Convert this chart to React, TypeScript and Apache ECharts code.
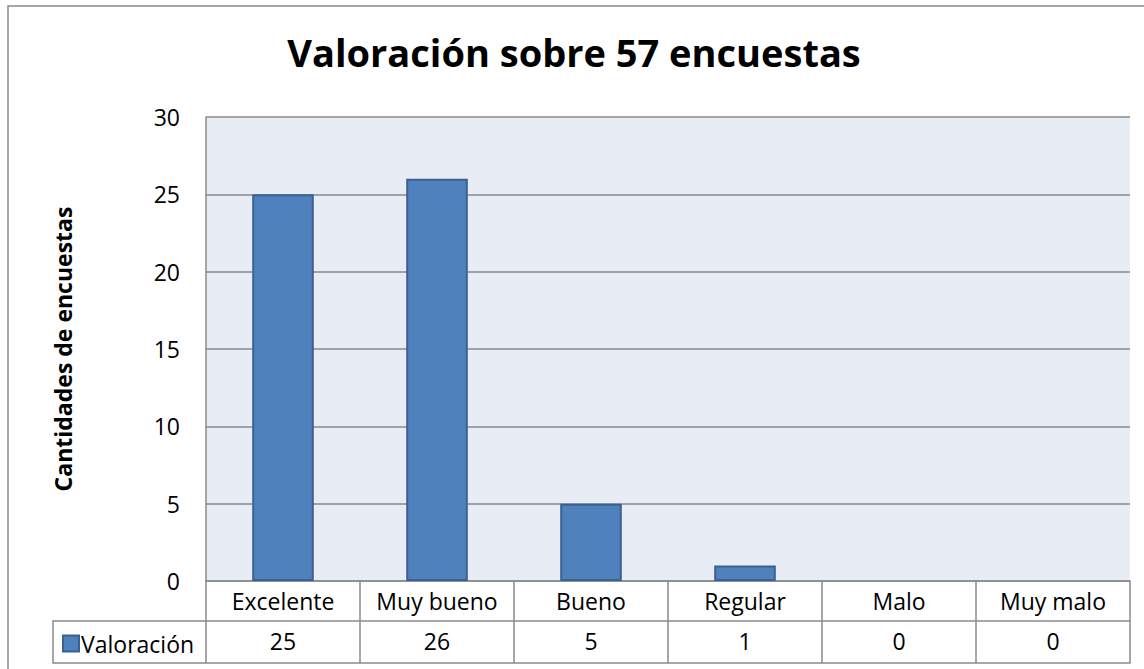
import React, { useEffect, useRef } from "react";
import * as echarts from "echarts";

const categories = ["Excelente", "Muy bueno", "Bueno", "Regular", "Malo", "Muy malo"];
const values = [25, 26, 5, 1, 0, 0];
const seriesName = "Valoración";
const titleText = "Valoración sobre 57 encuestas";
const yAxisTitle = "Cantidades de encuestas";

const FONT = "'Open Sans', sans-serif";
const GRAY = "#8a8a8a";
const LABEL_SIZE = 23;

export default function App() {
  const ref = useRef<HTMLDivElement>(null);
  useEffect(() => {
    if (!ref.current) return;
    const chart = echarts.init(ref.current, null, { renderer: "svg" });
    chart.setOption({
      animation: false,
      backgroundColor: "#ffffff",
      textStyle: { fontFamily: FONT },
      title: {
        text: titleText,
        left: 569,
        textAlign: "center",
        top: 28,
        textStyle: { fontFamily: FONT, fontSize: 38, fontWeight: "bold", color: "#000" },
      },
      legend: {
        left: 57,
        top: 627,
        itemWidth: 16,
        itemHeight: 16,
        itemGap: 4,
        icon: "rect",
        data: [seriesName],
        textStyle: { fontFamily: FONT, fontSize: LABEL_SIZE, color: "#000", padding: [0, 0, 0, -3] },
      },
      grid: {
        left: 206,
        right: 14,
        top: 117,
        bottom: 88,
        show: true,
        backgroundColor: "#e8ecf4",
        borderWidth: 0,
      },
      xAxis: [
        {
          type: "category",
          data: categories,
          position: "bottom",
          axisLine: { show: true, lineStyle: { color: GRAY, width: 1.5 } },
          axisTick: { show: true, length: 82, interval: 0, lineStyle: { color: GRAY, width: 1.5 } },
          axisLabel: { interval: 0, margin: 8, fontFamily: FONT, fontSize: LABEL_SIZE, color: "#000" },
        },
        {
          type: "category",
          data: values.map((v) => String(v)),
          position: "bottom",
          offset: 40,
          axisLine: { show: true, lineStyle: { color: GRAY, width: 1.5 } },
          axisTick: { show: false },
          axisLabel: { interval: 0, margin: 8, fontFamily: FONT, fontSize: LABEL_SIZE, color: "#000" },
        },
        {
          type: "category",
          data: categories,
          position: "bottom",
          offset: 82,
          axisLine: { show: true, lineStyle: { color: GRAY, width: 1.5 } },
          axisTick: { show: false },
          axisLabel: { show: false },
        },
      ],
      yAxis: {
        type: "value",
        min: 0,
        max: 30,
        interval: 5,
        name: yAxisTitle,
        nameLocation: "middle",
        nameGap: 132,
        nameTextStyle: { fontFamily: FONT, fontSize: 23, fontWeight: "bold", color: "#000" },
        axisLine: { show: true, lineStyle: { color: GRAY, width: 1.5 } },
        axisTick: { show: false },
        axisLabel: { margin: 26, fontFamily: FONT, fontSize: LABEL_SIZE, color: "#000" },
        splitLine: { show: true, lineStyle: { color: GRAY, width: 1.5 } },
      },
      series: [
        {
          name: seriesName,
          type: "bar",
          data: values.map((v) => ({
            value: v,
            itemStyle: v === 0 ? { borderWidth: 0 } : undefined,
          })),
          barWidth: "40%",
          itemStyle: { color: "#4f81bd", borderColor: "#3a6190", borderWidth: 2 },
        },
      ],
      graphic: [
        {
          type: "rect",
          shape: { x: 8, y: 6, width: 1140, height: 700 },
          style: { fill: "none", stroke: GRAY, lineWidth: 1.5 },
          silent: true,
          z: 100,
        },
        {
          type: "polyline",
          shape: { points: [[206, 621], [53, 621], [53, 663], [206, 663]] },
          style: { fill: "none", stroke: GRAY, lineWidth: 1.5 },
          silent: true,
          z: 100,
        },
      ],
    });
    return () => chart.dispose();
  }, []);
  return (
    <div
      ref={ref}
      style={{ position: "fixed", left: 0, top: 0, width: 1144, height: 669 }}
    />
  );
}
